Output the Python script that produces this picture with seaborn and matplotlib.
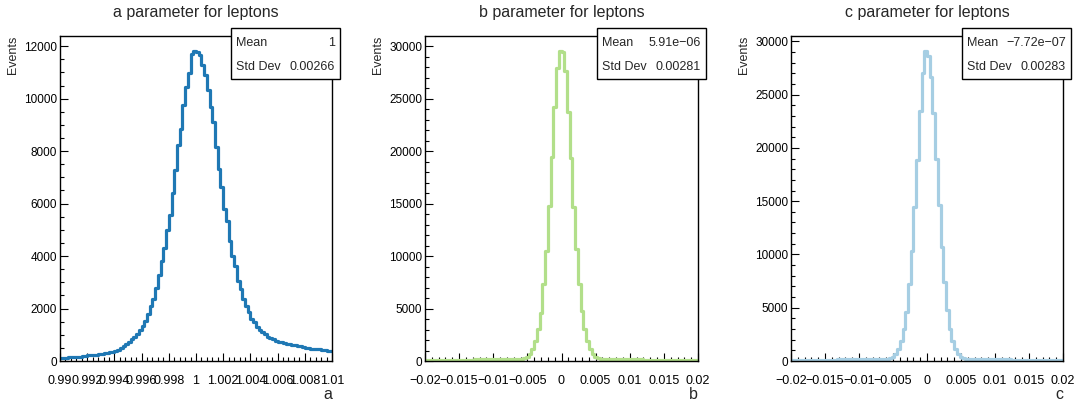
import numpy as np
import pandas as pd
import matplotlib
matplotlib.use('Agg')
import matplotlib.pyplot as plt
from matplotlib.patches import Rectangle
from matplotlib.ticker import MultipleLocator, FuncFormatter
import seaborn as sns

# histogram contents (100 bins each)
a_counts = [120, 125, 130, 134, 140, 150, 158, 170, 180, 192,
            210, 220, 232, 245, 262, 280, 300, 318, 340, 362,
            385, 425, 480, 560, 640, 730, 830, 930, 1045, 1190,
            1340, 1530, 1780, 2080, 2360, 2780, 3270, 3820, 4290, 5010,
            5570, 6410, 7270, 8220, 8830, 9770, 10450, 10980, 11700, 11800,
            11780, 11660, 11300, 10890, 10320, 9680, 9110, 8150, 7330, 6620,
            5800, 5350, 4590, 4010, 3630, 3060, 2740, 2360, 2080, 1850,
            1590, 1470, 1310, 1180, 1110, 1020, 930, 870, 830, 760,
            730, 710, 690, 660, 640, 620, 600, 580, 555, 530,
            505, 482, 470, 458, 450, 440, 428, 410, 395, 380]

b_counts = [95, 97, 101, 102, 106, 108, 111, 112, 116, 118,
            121, 123, 127, 129, 131, 136, 138, 142, 144, 148,
            150, 154, 157, 160, 164, 166, 171, 174, 178, 183,
            186, 191, 195, 201, 210, 225, 250, 380, 640, 1110,
            1910, 3030, 4620, 7330, 10510, 14810, 19430, 24200, 27900, 29520,
            29480, 27700, 23730, 19330, 14650, 10670, 7330, 4780, 3030, 1910,
            1110, 700, 410, 290, 230, 205, 196, 190, 186, 181,
            177, 173, 170, 166, 163, 159, 156, 152, 150, 146,
            143, 140, 137, 134, 131, 128, 125, 122, 120, 117,
            114, 112, 109, 106, 104, 101, 99, 97, 95, 93]

c_counts = [93, 96, 99, 103, 104, 107, 110, 113, 114, 117,
            120, 124, 126, 128, 132, 134, 137, 141, 143, 147,
            149, 152, 156, 159, 162, 167, 169, 173, 177, 181,
            185, 189, 194, 199, 208, 222, 240, 370, 650, 1100,
            1900, 3000, 4600, 7200, 10300, 14500, 18900, 23500, 27000, 29050,
            28650, 26700, 23300, 19000, 14600, 10700, 7400, 4800, 3050, 1900,
            1100, 680, 400, 280, 225, 203, 194, 189, 184, 180,
            176, 172, 168, 165, 161, 158, 155, 151, 148, 145,
            142, 139, 136, 133, 130, 127, 124, 121, 118, 116,
            113, 110, 108, 105, 103, 100, 98, 96, 94, 92]

names = ['a', 'b', 'c']
ranges = [(0.99, 1.01), (-0.02, 0.02), (-0.02, 0.02)]
colors = ['#1f78b4', '#b2df8a', '#a6cee3']
means = ['1', '5.91e\u221206', '\u22127.72e\u221207']
stds = ['0.00266', '0.00281', '0.00283']
counts = [a_counts, b_counts, c_counts]

sns.set_theme(style='ticks')
plt.rcParams['font.family'] = ['Liberation Sans', 'DejaVu Sans']

W, H = 1078, 403
fig = plt.figure(figsize=(W / 100, H / 100), dpi=100)

# axes boxes in pixels: left, right (top 36, bottom 361)
boxes = [(60, 332), (425, 698), (791, 1063)]
top_px, bot_px = 36, 361

def fmt(v, pos):
    s = '%g' % round(v, 6)
    if s == '-0':
        s = '0'
    return s.replace('-', '\u2212')

for i, name in enumerate(names):
    l, r = boxes[i]
    ax = fig.add_axes([l / W, 1 - bot_px / H, (r - l) / W, (bot_px - top_px) / H])
    lo, hi = ranges[i]
    nb = len(counts[i])
    edges = np.linspace(lo, hi, nb + 1)
    df = pd.DataFrame({'x': (edges[:-1] + edges[1:]) / 2, 'n': counts[i]})
    sns.histplot(data=df, x='x', weights='n', bins=nb, binrange=(lo, hi),
                 element='step', fill=False, color=colors[i], linewidth=2.3, ax=ax)

    ax.set_xlim(lo, hi)
    ax.set_ylim(0, 1.05 * max(counts[i]))
    if i == 0:
        ax.xaxis.set_major_locator(MultipleLocator(0.002))
        ax.xaxis.set_minor_locator(MultipleLocator(0.0004))
        ax.yaxis.set_major_locator(MultipleLocator(2000))
        ax.yaxis.set_minor_locator(MultipleLocator(500))
    else:
        ax.xaxis.set_major_locator(MultipleLocator(0.005))
        ax.xaxis.set_minor_locator(MultipleLocator(0.001))
        ax.yaxis.set_major_locator(MultipleLocator(5000))
        ax.yaxis.set_minor_locator(MultipleLocator(1000))
    ax.xaxis.set_major_formatter(FuncFormatter(fmt))
    ax.yaxis.set_major_formatter(FuncFormatter(fmt))

    ax.tick_params(which='both', direction='in', top=False, right=False,
                   color='black', width=0.8, labelsize=8.5, labelcolor='black')
    ax.tick_params(which='major', length=5.5)
    ax.tick_params(which='minor', length=3)
    ax.tick_params(axis='x', which='major', pad=10, labelsize=9)
    ax.tick_params(axis='y', which='major', pad=2)
    for sp in ax.spines.values():
        sp.set_visible(True)
        sp.set_color('black')
        sp.set_linewidth(1.0)
    ax.grid(False)

    ax.set_title(f'{name} parameter for leptons', fontsize=11.5, pad=14)
    ax.set_xlabel(name, loc='right', fontsize=11.5, labelpad=0)
    ax.set_ylabel('Events', loc='top', fontsize=9, labelpad=4)

    # stats box
    bx0, bx1 = r - 101, r + 8
    by0, by1 = 28, 79
    fig.add_artist(Rectangle((bx0 / W, 1 - by1 / H), (bx1 - bx0) / W, (by1 - by0) / H,
                             transform=fig.transFigure, facecolor='white',
                             edgecolor='black', linewidth=1.0, zorder=5))
    fig.text((bx0 + 5) / W, 1 - 42.5 / H, 'Mean', fontsize=9, va='center', zorder=6)
    fig.text((bx1 - 5) / W, 1 - 42.5 / H, means[i], fontsize=9, va='center', ha='right', zorder=6)
    fig.text((bx0 + 5) / W, 1 - 67 / H, 'Std Dev', fontsize=9, va='center', zorder=6)
    fig.text((bx1 - 5) / W, 1 - 67 / H, stds[i], fontsize=9, va='center', ha='right', zorder=6)

plt.savefig('out.png', dpi=100)
